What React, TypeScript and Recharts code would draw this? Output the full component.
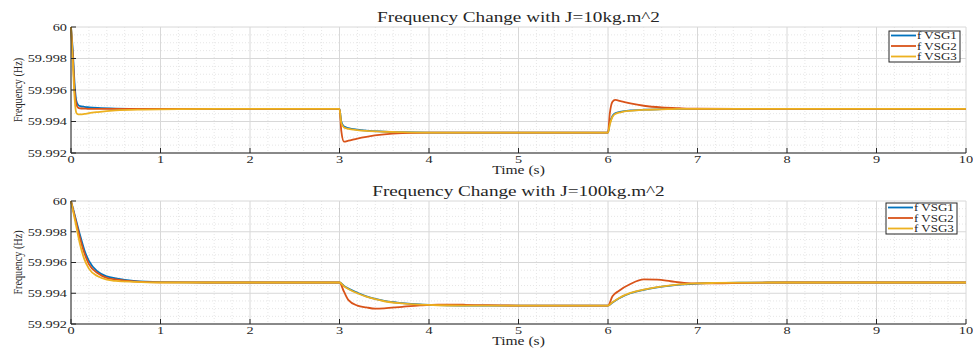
import { LineChart, Line, XAxis, YAxis, CartesianGrid } from "recharts";

// MATLAB default line colours
const BLUE = "#0072BD";
const RED = "#D95319";
const YELLOW = "#EDB120";
const INK = "#262626";
const SERIF = "'Liberation Serif', 'Times New Roman', serif";

const seriesNames = ["f VSG1", "f VSG2", "f VSG3"];
const seriesColors = [BLUE, RED, YELLOW];

const xTicks = [0, 1, 2, 3, 4, 5, 6, 7, 8, 9, 10];
const yTicks = [59.992, 59.994, 59.996, 59.998, 60];
const xMinor = [
  0.2, 0.4, 0.6, 0.8, 1.2, 1.4, 1.6, 1.8, 2.2, 2.4, 2.6, 2.8, 3.2, 3.4, 3.6, 3.8,
  4.2, 4.4, 4.6, 4.8, 5.2, 5.4, 5.6, 5.8, 6.2, 6.4, 6.6, 6.8, 7.2, 7.4, 7.6, 7.8,
  8.2, 8.4, 8.6, 8.8, 9.2, 9.4, 9.6, 9.8,
];
const yMinor = [59.9925, 59.993, 59.9935, 59.9945, 59.995, 59.9955, 59.9965, 59.997, 59.9975, 59.9985, 59.999, 59.9995];

// J = 10 kg.m^2
const timeJ10 = [
  0, 0.02, 0.04, 0.06, 0.08, 0.1, 0.15, 0.2, 0.3, 0.5, 0.8, 1.2, 2,
  3, 3.02, 3.05, 3.1, 3.2, 3.3, 3.5, 3.7, 4, 5,
  6, 6.02, 6.05, 6.08, 6.15, 6.25, 6.4, 6.6, 6.8, 7, 8, 9, 10,
];
const vsg1J10 = [
  60, 59.9985, 59.9964, 59.9953, 59.99505, 59.99498, 59.99493, 59.9949, 59.99486, 59.99482, 59.9948, 59.9948, 59.9948,
  59.9948, 59.994, 59.99368, 59.99358, 59.99348, 59.99342, 59.99336, 59.99332, 59.9933, 59.9933,
  59.9933, 59.9939, 59.99435, 59.99452, 59.99463, 59.9947, 59.99475, 59.99478, 59.9948, 59.9948, 59.9948, 59.9948, 59.9948,
];
const vsg2J10 = [
  60, 59.9982, 59.996, 59.9951, 59.99488, 59.99484, 59.99482, 59.9948, 59.9948, 59.9948, 59.9948, 59.9948, 59.9948,
  59.9948, 59.9934, 59.99272, 59.99278, 59.99292, 59.99303, 59.99318, 59.99326, 59.9933, 59.9933,
  59.9933, 59.9945, 59.99525, 59.99537, 59.99528, 59.99515, 59.995, 59.99489, 59.99484, 59.99481, 59.9948, 59.9948, 59.9948,
];
const vsg3J10 = [
  60, 59.9978, 59.9955, 59.99455, 59.99445, 59.99445, 59.99448, 59.99453, 59.9946, 59.9947, 59.99476, 59.99479, 59.9948,
  59.9948, 59.9939, 59.99362, 59.99353, 59.99345, 59.9934, 59.99335, 59.99332, 59.9933, 59.9933,
  59.9933, 59.9938, 59.9943, 59.99448, 59.9946, 59.99468, 59.99474, 59.99477, 59.9948, 59.9948, 59.9948, 59.9948, 59.9948,
];

// J = 100 kg.m^2
const timeJ100 = [
  0, 0.05, 0.1, 0.15, 0.2, 0.3, 0.4, 0.5, 0.7, 1, 1.5, 2,
  3, 3.05, 3.1, 3.2, 3.3, 3.4, 3.5, 3.7, 3.9, 4.1, 4.4, 5,
  6, 6.05, 6.12, 6.25, 6.4, 6.55, 6.7, 6.85, 7, 7.2, 7.5, 8, 9, 10,
];
const vsg1J100 = [
  60, 59.9989, 59.9978, 59.9968, 59.9961, 59.9954, 59.9951, 59.99497, 59.9948, 59.99472, 59.9947, 59.9947,
  59.9947, 59.99448, 59.9943, 59.99403, 59.9938, 59.99363, 59.9935, 59.99336, 59.99327, 59.99323, 59.9932, 59.9932,
  59.9932, 59.9934, 59.99366, 59.994, 59.99422, 59.99438, 59.9945, 59.99458, 59.99463, 59.99467, 59.99469, 59.9947, 59.9947, 59.9947,
];
const vsg2J100 = [
  60, 59.9988, 59.9976, 59.9966, 59.9959, 59.9953, 59.995, 59.9949, 59.99477, 59.99471, 59.9947, 59.9947,
  59.9947, 59.9941, 59.99355, 59.9932, 59.99308, 59.993, 59.99302, 59.99312, 59.99321, 59.99326, 59.99325, 59.9932,
  59.9932, 59.9938, 59.99415, 59.9946, 59.9949, 59.99488, 59.99478, 59.99468, 59.99464, 59.99464, 59.99467, 59.9947, 59.9947, 59.9947,
];
const vsg3J100 = [
  60, 59.9986, 59.9972, 59.9962, 59.9956, 59.9951, 59.99488, 59.9948, 59.99474, 59.9947, 59.9947, 59.9947,
  59.9947, 59.99446, 59.99428, 59.994, 59.99378, 59.99361, 59.99348, 59.99334, 59.99326, 59.99322, 59.9932, 59.9932,
  59.9932, 59.99342, 59.99368, 59.99402, 59.99424, 59.9944, 59.99451, 59.99459, 59.99464, 59.99467, 59.99469, 59.9947, 59.9947, 59.9947,
];

const XTick = ({ x, y, payload }: any) => (
  <g transform={`translate(${x},${y + 15})`}>
    <text transform="scale(1.3,1)" textAnchor="middle" fontFamily={SERIF} fontSize={11} fill={INK}>
      {payload.value}
    </text>
  </g>
);

const YTick = ({ x, y, payload }: any) => (
  <g transform={`translate(${x - 9},${y})`}>
    <text transform="scale(1.3,1)" textAnchor="end" dy="0.35em" fontFamily={SERIF} fontSize={11} fill={INK}>
      {payload.value === 60 ? "60" : payload.value.toFixed(3)}
    </text>
  </g>
);

interface PanelProps {
  title: string;
  time: number[];
  s1: number[];
  s2: number[];
  s3: number[];
  height: number;
  top: number;
  plotBottom: number;
  legendX: number;
  legendY: number;
}

const Panel = ({ title, time, s1, s2, s3, height, top, plotBottom, legendX, legendY }: PanelProps) => {
  const data = time.map((t, i) => ({ t, v1: s1[i], v2: s2[i], v3: s3[i] }));
  const plotMid = (top + plotBottom) / 2;

  return (
    <div style={{ position: "relative", width: 973, height }}>
      <LineChart
        width={973}
        height={height}
        data={data}
        margin={{ top, right: 7, left: 0, bottom: height - plotBottom - 20 }}
      >
        <CartesianGrid horizontalValues={yMinor} verticalValues={xMinor} stroke="#e6e6e6" strokeDasharray="1 2" />
        <CartesianGrid horizontalValues={yTicks} verticalValues={xTicks} stroke="#d8d8d8" />
        <XAxis
          dataKey="t"
          type="number"
          domain={[0, 10]}
          ticks={xTicks}
          interval={0}
          height={20}
          tickSize={-5}
          tickMargin={0}
          tick={<XTick />}
          stroke={INK}
        />
        <XAxis xAxisId="top" orientation="top" type="number" domain={[0, 10]} ticks={xTicks} interval={0} height={0} tickSize={-5} tick={false} stroke={INK} />
        <YAxis
          type="number"
          domain={[59.992, 60]}
          ticks={yTicks}
          interval={0}
          width={71}
          tickSize={-5}
          tickMargin={0}
          tick={<YTick />}
          stroke={INK}
          allowDataOverflow
        />
        <YAxis yAxisId="right" orientation="right" type="number" domain={[59.992, 60]} ticks={yTicks} interval={0} width={0} tickSize={-5} tick={false} stroke={INK} />
        <Line type="monotone" dataKey="v1" stroke={BLUE} strokeWidth={1.8} dot={false} isAnimationActive={false} />
        <Line type="monotone" dataKey="v2" stroke={RED} strokeWidth={1.8} dot={false} isAnimationActive={false} />
        <Line type="monotone" dataKey="v3" stroke={YELLOW} strokeWidth={1.8} dot={false} isAnimationActive={false} />
      </LineChart>

      <svg width={973} height={height} style={{ position: "absolute", left: 0, top: 0, overflow: "visible", pointerEvents: "none" }}>
        <g transform={`translate(518.5,${top - 5})`}>
          <text transform="scale(1.37,1)" textAnchor="middle" fontFamily={SERIF} fontSize={14} fill={INK}>
            {title}
          </text>
        </g>
        <g transform={`translate(518.5,${plotBottom + 21})`}>
          <text transform="scale(1.3,1)" textAnchor="middle" fontFamily={SERIF} fontSize={12} fill={INK}>
            Time (s)
          </text>
        </g>
        <g transform={`translate(17,${plotMid})`}>
          <text transform="scale(1.3,1) rotate(-90)" textAnchor="middle" dy="0.35em" fontFamily={SERIF} fontSize={10.2} fill={INK}>
            Frequency (Hz)
          </text>
        </g>
        <g transform={`translate(${legendX},${legendY})`}>
          <rect x={0} y={0} width={71} height={31} fill="#fff" stroke={INK} strokeWidth={1} />
          {seriesNames.map((name, i) => (
            <g key={name} transform={`translate(0,${4.5 + i * 10.5})`}>
              <line x1={2} x2={27} y1={0} y2={0} stroke={seriesColors[i]} strokeWidth={1.8} />
              <text transform="translate(28,0) scale(1.3,1)" dy="0.35em" fontFamily={SERIF} fontSize={10} fill={INK}>
                {name}
              </text>
            </g>
          ))}
        </g>
      </svg>
    </div>
  );
};

export default function App() {
  return (
    <div style={{ width: 973, height: 349, background: "#fff" }}>
      <style>{`body{margin:0}`}</style>
      <Panel
        title="Frequency Change with J=10kg.m^2"
        time={timeJ10}
        s1={vsg1J10}
        s2={vsg2J10}
        s3={vsg3J10}
        height={175}
        top={27}
        plotBottom={153}
        legendX={889}
        legendY={31}
      />
      <Panel
        title="Frequency Change with J=100kg.m^2"
        time={timeJ100}
        s1={vsg1J100}
        s2={vsg2J100}
        s3={vsg3J100}
        height={174}
        top={26}
        plotBottom={149}
        legendX={886}
        legendY={28}
      />
    </div>
  );
}
